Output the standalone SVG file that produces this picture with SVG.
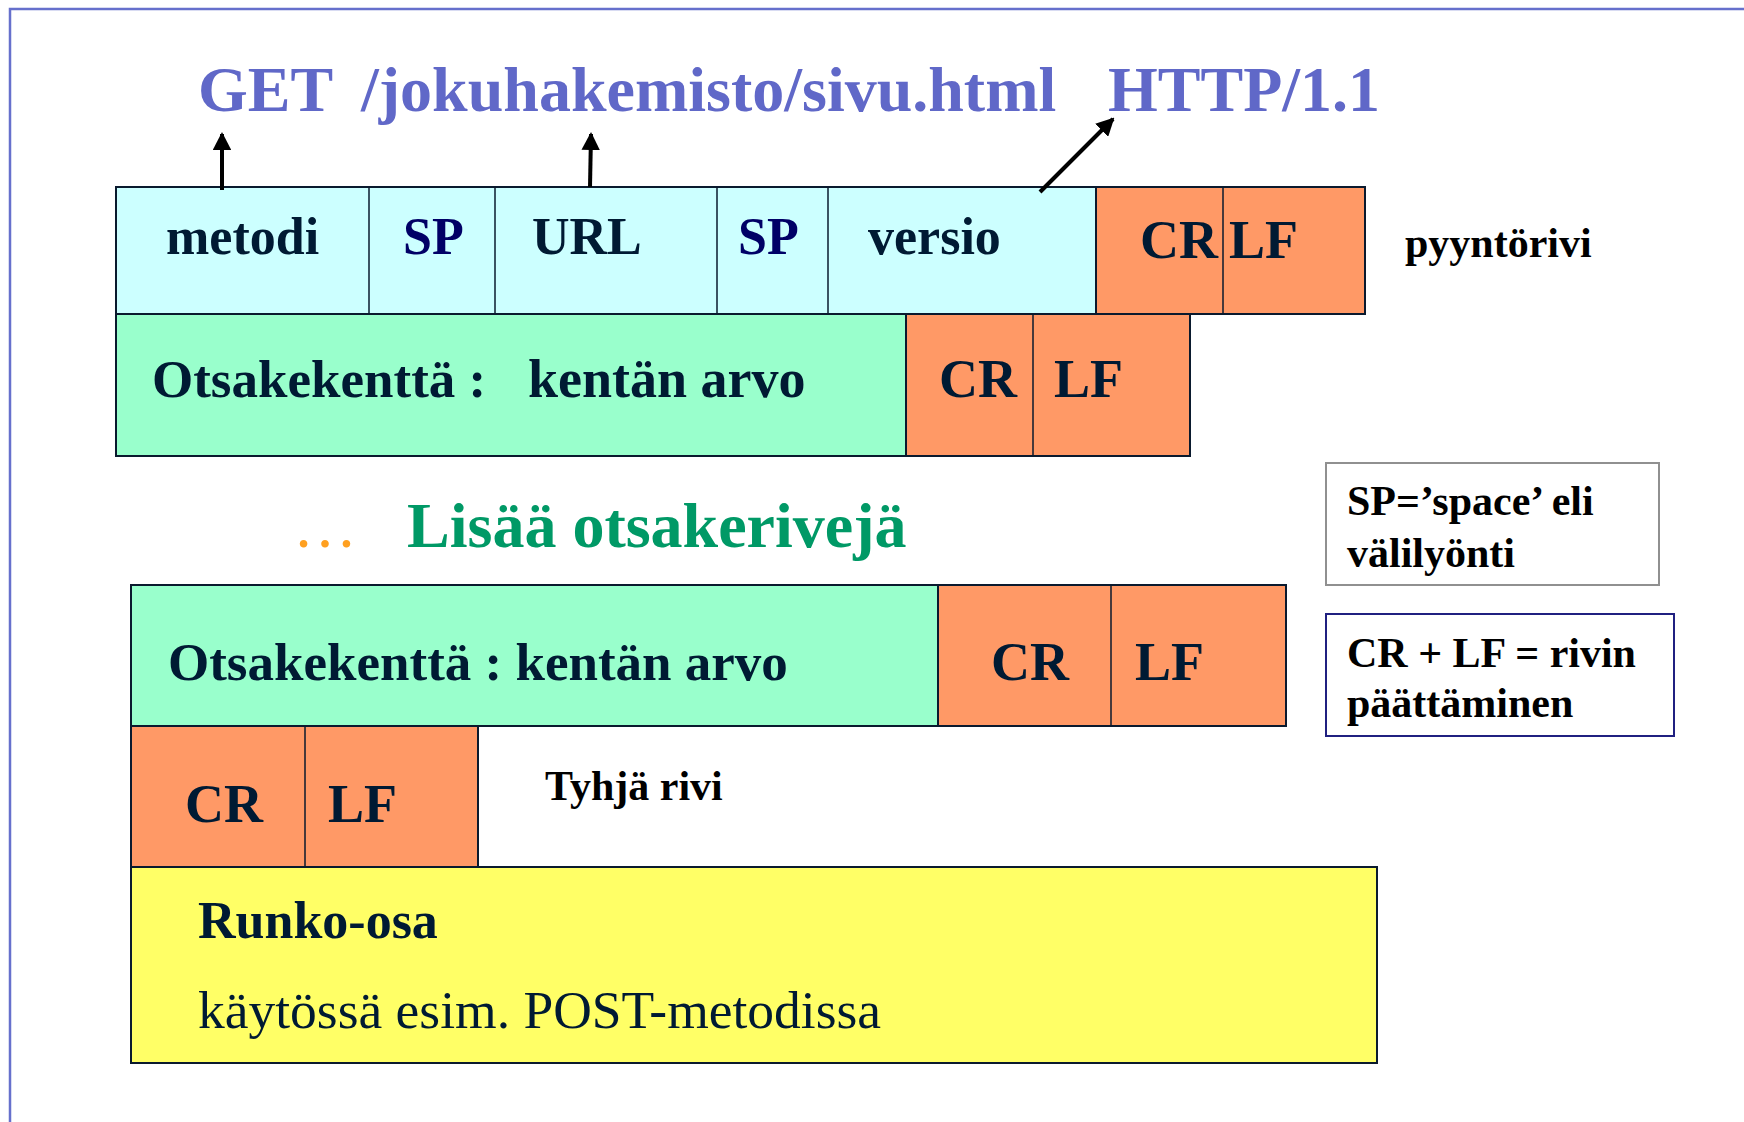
<svg xmlns="http://www.w3.org/2000/svg" width="1744" height="1122" viewBox="0 0 1744 1122">
<defs>
<marker id="ah" markerWidth="4.5" markerHeight="4.6" refX="4" refY="2.3" orient="auto" markerUnits="strokeWidth">
<path d="M0,0 L4.5,2.3 L0,4.6 Z" fill="#000"/>
</marker>
<style>
text{font-family:"Liberation Serif","Times New Roman",serif;}
.b{font-weight:bold;fill:#001a33;}
.box{stroke:#0a1a2e;stroke-width:2;}
.div{stroke:#0a1a2e;stroke-width:1.5;}
.cy{fill:#ccffff;}
.gr{fill:#99ffcc;}
.or{fill:#ff9966;}
.ye{fill:#ffff66;}
.f52{font-size:52px;}
.f53{font-size:53px;}
.f54{font-size:54px;}
.f42{font-size:42px;font-weight:bold;fill:#000;}
.sp{fill:#000066;}
.conn{stroke:#000;stroke-width:4;fill:none;}
</style>
</defs>
<rect x="0" y="0" width="1744" height="1122" fill="#fff"/>
<path d="M10,1122 L10,9 L1744,9" fill="none" stroke="#6670cc" stroke-width="2.5"/>

<g id="title">
<text x="198" y="111" font-size="64" font-weight="bold" fill="#6068c8">GET</text>
<text x="361" y="111" font-size="64" font-weight="bold" fill="#6068c8">/jokuhakemisto/sivu.html</text>
<text x="1108" y="111" font-size="64" font-weight="bold" fill="#6068c8">HTTP/1.1</text>
</g>

<g id="pyyntorivi">
<rect class="box cy" x="116" y="187" width="980" height="127"/>
<rect class="box or" x="1096" y="187" width="269" height="127"/>
<line class="div" x1="369" y1="187" x2="369" y2="314"/>
<line class="div" x1="495" y1="187" x2="495" y2="314"/>
<line class="div" x1="717" y1="187" x2="717" y2="314"/>
<line class="div" x1="828" y1="187" x2="828" y2="314"/>
<line class="div" x1="1223" y1="187" x2="1223" y2="314"/>
<text class="b f52" x="166" y="254">metodi</text>
<text class="b f52 sp" x="403" y="254">SP</text>
<text class="b f52" x="532" y="254">URL</text>
<text class="b f52 sp" x="738" y="254">SP</text>
<text class="b f52" x="868" y="254">versio</text>
<text class="b f54" x="1140" y="258">CR</text>
<text class="b f54" x="1229" y="258">LF</text>
</g>
<text id="lbl-pyyntorivi" class="f42" x="1405" y="257">pyyntörivi</text>

<g id="otsake1">
<rect class="box gr" x="116" y="314" width="790" height="142"/>
<rect class="box or" x="906" y="314" width="284" height="142"/>
<line class="div" x1="1033" y1="314" x2="1033" y2="456"/>
<text class="b f53" x="152" y="397">Otsakekenttä :</text>
<text class="b f54" x="528" y="397">kentän arvo</text>
<text class="b f54" x="939" y="397">CR</text>
<text class="b f54" x="1054" y="397">LF</text>
</g>

<g id="lisaa">
<text x="293" y="547" font-size="64" fill="#ffa020">…</text>
<text x="407" y="547" font-size="64" font-weight="bold" fill="#009966">Lisää otsakerivejä</text>
</g>

<g id="otsake2">
<rect class="box gr" x="131" y="585" width="807" height="141"/>
<rect class="box or" x="938" y="585" width="348" height="141"/>
<line class="div" x1="1111" y1="585" x2="1111" y2="726"/>
<text class="b f53" x="168" y="680">Otsakekenttä : kentän arvo</text>
<text class="b f54" x="991" y="680">CR</text>
<text class="b f54" x="1135" y="680">LF</text>
</g>

<g id="tyhja">
<rect class="box or" x="131" y="726" width="347" height="141"/>
<line class="div" x1="305" y1="726" x2="305" y2="867"/>
<text class="b f54" x="185" y="822">CR</text>
<text class="b f54" x="328" y="822">LF</text>
</g>
<text id="lbl-tyhja" class="f42" x="545" y="800">Tyhjä rivi</text>

<g id="runko">
<rect class="box ye" x="131" y="867" width="1246" height="196"/>
<text class="b f52" x="198" y="938">Runko-osa</text>
<text x="198" y="1028" font-size="53.5" fill="#001a33">käytössä esim. POST-metodissa</text>
</g>

<g id="note-sp">
<rect x="1326" y="463" width="333" height="122" fill="#fff" stroke="#909090" stroke-width="2"/>
<text class="f42" x="1347" y="515">SP=’space’ eli</text>
<text class="f42" x="1347" y="567">välilyönti</text>
</g>

<g id="note-crlf">
<rect x="1326" y="614" width="348" height="122" fill="#fff" stroke="#202080" stroke-width="2"/>
<text class="f42" x="1347" y="667">CR + LF = rivin</text>
<text class="f42" x="1347" y="717">päättäminen</text>
</g>

<g id="connectors">
<line class="conn" x1="222" y1="190" x2="222" y2="134" marker-end="url(#ah)"/>
<line class="conn" x1="590" y1="187" x2="591" y2="134" marker-end="url(#ah)"/>
<line class="conn" x1="1040" y1="192" x2="1113" y2="119" marker-end="url(#ah)"/>
</g>
</svg>
